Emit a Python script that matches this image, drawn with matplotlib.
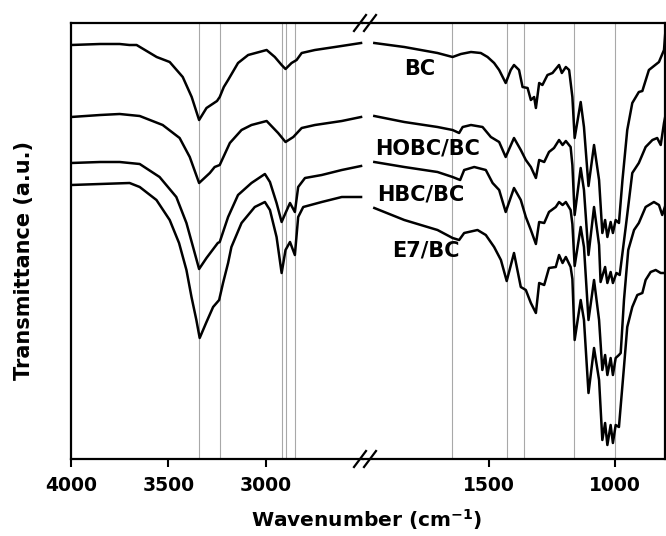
import matplotlib
matplotlib.use("Agg")
import matplotlib.pyplot as plt
from matplotlib.lines import Line2D

# ---------------- data (transmittance, arbitrary units) ----------------
bc_left_wn = [4000, 3850, 3750, 3700, 3663, 3620, 3560, 3493, 3426, 3380, 3342, 3304, 3250, 3236, 3215, 3193, 3142, 3090, 2995, 2953, 2918, 2898, 2867, 2841, 2815, 2747, 2644, 2510]
bc_left_t = [414, 415, 415, 414, 414, 409, 402, 397, 382, 362, 339, 351, 358, 362, 372, 379, 396, 404, 409, 402, 394, 390, 396, 399, 406, 409, 412, 416]

hobc_left_wn = [4000, 3850, 3750, 3647, 3529, 3442, 3390, 3342, 3287, 3262, 3236, 3184, 3124, 3073, 2995, 2936, 2898, 2858, 2815, 2747, 2609, 2510]
hobc_left_t = [342, 344, 345, 343, 334, 321, 302, 276, 286, 292, 294, 316, 329, 334, 338, 326, 317, 322, 331, 334, 338, 342]

hbc_left_wn = [4000, 3850, 3750, 3647, 3545, 3459, 3407, 3373, 3342, 3304, 3246, 3236, 3193, 3142, 3073, 3004, 2978, 2944, 2918, 2898, 2875, 2850, 2833, 2798, 2712, 2609, 2510]
hbc_left_t = [296, 297, 297, 295, 282, 262, 236, 212, 190, 201, 216, 217, 242, 264, 276, 285, 277, 256, 237, 246, 256, 247, 272, 281, 284, 289, 293]

e7_left_wn = [4000, 3850, 3699, 3647, 3561, 3493, 3445, 3407, 3381, 3356, 3339, 3304, 3270, 3239, 3219, 3193, 3176, 3124, 3056, 3004, 2978, 2944, 2918, 2898, 2875, 2850, 2833, 2807, 2712, 2609, 2510]
e7_left_t = [274, 275, 276, 272, 259, 239, 216, 189, 162, 139, 121, 137, 152, 159, 176, 196, 212, 236, 252, 257, 249, 222, 186, 209, 217, 204, 242, 252, 257, 262, 262]

bc_right_wn = [1955, 1836, 1704, 1644, 1611, 1571, 1532, 1505, 1479, 1459, 1433, 1413, 1400, 1380, 1366, 1346, 1333, 1320, 1313, 1300, 1287, 1267, 1247, 1221, 1210, 1194, 1181, 1168, 1159, 1135, 1122, 1104, 1082, 1062, 1049, 1038, 1029, 1016, 1007, 996, 983, 969, 950, 930, 904, 890, 864, 824, 804, 798]
bc_right_t = [416, 412, 406, 402, 405, 407, 406, 402, 396, 389, 376, 389, 394, 389, 372, 371, 359, 362, 351, 376, 374, 384, 386, 394, 386, 392, 389, 362, 321, 357, 332, 273, 314, 279, 226, 239, 222, 237, 226, 239, 236, 279, 329, 356, 367, 368, 389, 397, 409, 429]

hobc_right_wn = [1955, 1836, 1704, 1644, 1618, 1604, 1571, 1525, 1492, 1459, 1433, 1400, 1373, 1353, 1333, 1313, 1300, 1280, 1261, 1241, 1221, 1207, 1194, 1175, 1168, 1159, 1135, 1122, 1104, 1082, 1062, 1056, 1038, 1029, 1016, 1007, 993, 980, 956, 930, 904, 877, 850, 831, 817, 804, 794]
hobc_right_t = [343, 337, 332, 329, 326, 332, 334, 332, 322, 317, 302, 321, 309, 299, 292, 281, 299, 297, 307, 311, 319, 314, 318, 312, 294, 244, 291, 269, 204, 252, 214, 177, 192, 176, 187, 176, 186, 184, 232, 286, 296, 312, 319, 321, 314, 336, 349]

hbc_right_wn = [1955, 1836, 1704, 1644, 1614, 1598, 1558, 1512, 1485, 1459, 1433, 1400, 1373, 1353, 1333, 1313, 1300, 1280, 1261, 1234, 1221, 1207, 1194, 1175, 1168, 1159, 1135, 1122, 1104, 1082, 1062, 1049, 1038, 1029, 1016, 1007, 996, 983, 976, 963, 946, 923, 904, 877, 844, 824, 811, 794]
hbc_right_t = [297, 292, 287, 282, 279, 289, 292, 289, 276, 269, 247, 271, 259, 242, 229, 215, 237, 236, 247, 252, 257, 254, 257, 249, 235, 193, 232, 212, 139, 179, 139, 89, 104, 84, 101, 84, 101, 104, 106, 159, 209, 229, 236, 252, 257, 254, 244, 257]

e7_right_wn = [1955, 1836, 1704, 1644, 1618, 1598, 1545, 1512, 1479, 1452, 1429, 1400, 1373, 1353, 1333, 1313, 1300, 1280, 1261, 1234, 1221, 1207, 1194, 1175, 1168, 1159, 1135, 1122, 1104, 1082, 1062, 1049, 1038, 1029, 1016, 1007, 996, 983, 963, 950, 930, 910, 890, 877, 857, 837, 817, 794]
e7_right_t = [251, 239, 229, 221, 219, 226, 229, 224, 212, 199, 178, 206, 172, 169, 156, 146, 176, 174, 191, 192, 204, 196, 202, 192, 180, 119, 159, 139, 66, 111, 79, 19, 36, 14, 34, 16, 34, 32, 92, 132, 152, 164, 166, 179, 187, 189, 186, 186]

sample_names = ["BC", "HOBC/BC", "HBC/BC", "E7/BC"]
label_wn = [1774, 1742, 1770, 1750]
label_t = [390, 311, 265, 209]

ref_lines_left = [3340, 3235, 2918, 2895, 2848]
ref_lines_right = [1645, 1427, 1360, 1160, 1000]

ticks_left = [4000, 3500, 3000]
ticks_right = [1500, 1000]

# ---------------- figure ----------------
plt.rcParams['font.family'] = ['DejaVu Sans']
plt.rcParams['font.weight'] = 'bold'
plt.rcParams['mathtext.default'] = 'bf'

W, H = 666, 536
fig = plt.figure(figsize=(W / 100, H / 100), dpi=100)

bottom = 1 - 459 / H
height = (459 - 23) / H
axL = fig.add_axes([71 / W, bottom, 292 / W, height])
axR = fig.add_axes([363 / W, bottom, 302 / W, height])

lw_curve = 1.8
left_sets = [(bc_left_wn, bc_left_t), (hobc_left_wn, hobc_left_t),
             (hbc_left_wn, hbc_left_t), (e7_left_wn, e7_left_t)]
right_sets = [(bc_right_wn, bc_right_t), (hobc_right_wn, hobc_right_t),
              (hbc_right_wn, hbc_right_t), (e7_right_wn, e7_right_t)]

for wn in ref_lines_left:
    axL.axvline(wn, color='#a8a8a8', lw=0.8, zorder=1)
for wn in ref_lines_right:
    axR.axvline(wn, color='#a8a8a8', lw=0.8, zorder=1)

for wn, t in left_sets:
    axL.plot(wn, t, color='black', lw=lw_curve, zorder=3, solid_joinstyle='round')
for wn, t in right_sets:
    axR.plot(wn, t, color='black', lw=lw_curve, zorder=3, solid_joinstyle='round')

for name, x, y in zip(sample_names, label_wn, label_t):
    axR.text(x, y, name, ha='center', va='center', fontsize=15, fontweight='bold', zorder=4)

axL.set_xlim(4000, 2500)
axR.set_xlim(2000, 800)
for ax in (axL, axR):
    ax.set_ylim(0, 436)
    ax.set_yticks([])
    for s in ax.spines.values():
        s.set_linewidth(1.6)
    ax.tick_params(axis='x', direction='out', length=6, width=1.5, pad=6, labelsize=13.5)

axL.set_xticks(ticks_left)
axR.set_xticks(ticks_right)
axL.set_xticklabels([str(v) for v in ticks_left], fontweight='bold')
axR.set_xticklabels([str(v) for v in ticks_right], fontweight='bold')
axL.spines['right'].set_visible(False)
axR.spines['left'].set_visible(False)

# break marks
def fx(px):
    return px / W

def fy(py):
    return 1 - py / H

for ybase in (23, 459):
    for xc in (360, 370):
        fig.add_artist(Line2D([fx(xc - 6), fx(xc + 6)], [fy(ybase + 8), fy(ybase - 8)],
                              transform=fig.transFigure, color='black', lw=1.6))

fig.text(fx(367), fy(520), r'Wavenumber (cm$^{-1}$)', ha='center', va='center',
         fontsize=14.5, fontweight='bold')
fig.text(fx(24), fy(261), 'Transmittance (a.u.)', ha='center', va='center',
         rotation=90, fontsize=15, fontweight='bold')

fig.savefig('out.png', dpi=100)
